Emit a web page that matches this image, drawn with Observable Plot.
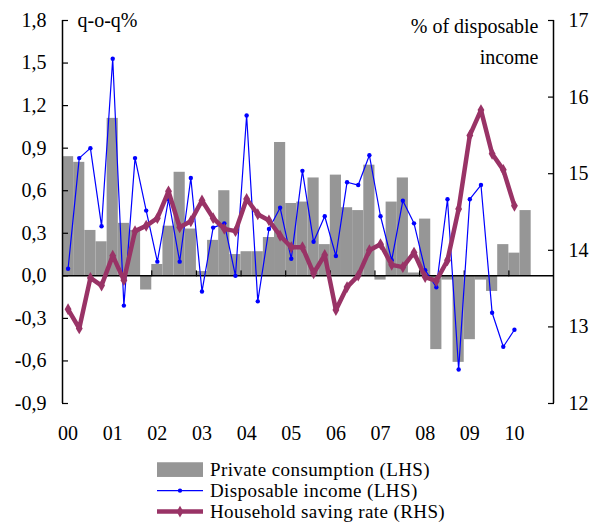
<!DOCTYPE html>
<html><head><meta charset="utf-8">
<script src="https://cdn.jsdelivr.net/npm/d3@7"></script>
<script src="https://cdn.jsdelivr.net/npm/@observablehq/plot@0.6"></script>
<style>
body{margin:0;background:#fff;font-family:"Liberation Serif",serif;}
#legend{margin-left:157px;padding-top:9px;font-size:19px;color:#000}
.row{display:flex;align-items:center;height:21.2px}
.row svg{display:block}
.row span{margin-left:7px;line-height:21.2px;letter-spacing:0.4px;white-space:nowrap}
</style></head><body>
<div id="chart"></div>
<div id="legend"></div>
<script>
// Year tick labels and quarterly categories (2000Q1 .. 2010Q4)
const years = ["00","01","02","03","04","05","06","07","08","09","10"];
const quarters = years.flatMap(y => ["Q1","Q2","Q3","Q4"].map(q => y + q));

// Private consumption, q-o-q % (LHS), 2000Q1 .. 2010Q2
const consumption = [0.84,0.80,0.32,0.24, 1.11,0.37,0.32,-0.10, 0.08,0.35,0.73,0.33,
  0.03,0.25,0.60,0.15, 0.17,0.17,0.27,0.94, 0.51,0.52,0.69,0.22, 0.71,0.48,0.46,0.78,
  -0.03,0.52,0.69,0.02, 0.40,-0.52,-0.03,-0.61, -0.45,-0.03,-0.11,0.22, 0.16,0.46];

// Disposable income, q-o-q % (LHS), 2000Q1 .. 2010Q1
const income = [0.05,0.83,0.90,0.35, 1.53,-0.21,0.83,0.46, 0.10,0.54,0.10,0.69,
  -0.11,0.34,0.37,0.00, 1.13,-0.18,0.33,0.48, 0.12,0.74,0.24,0.42, 0.14,0.66,0.64,0.85,
  0.42,0.11,0.53,0.37, 0.04,-0.08,0.54,-0.66, 0.54,0.64,-0.26,-0.50, -0.38];

// Household saving rate, % of disposable income (RHS), 2000Q1 .. 2010Q1
const savingRate = [13.23,12.98,13.64,13.54, 13.93,13.61,14.25,14.32, 14.42,14.77,14.30,14.38,
  14.65,14.42,14.28,14.25, 14.67,14.47,14.39,14.19, 14.04,14.04,13.70,13.94, 13.22,13.52,13.67,14.00,
  14.08,13.81,13.78,13.97, 13.65,13.60,13.87,14.54, 15.50,15.83,15.26,15.05, 14.58];

const leftTicks = [-0.9,-0.6,-0.3,0,0.3,0.6,0.9,1.2,1.5,1.8];
const rightTicks = [12,13,14,15,16,17];
const lhsDomain = [-0.9, 1.8];
const rhsDomain = [12, 17];
const leftTitle = "q-o-q%";
const rightTitle = "% of disposable\nincome";
const seriesNames = ["Private consumption (LHS)","Disposable income (LHS)","Household saving rate (RHS)"];
const colors = {bar:"#969696", income:"#0000ff", saving:"#993366"};

const k = (lhsDomain[1]-lhsDomain[0])/(rhsDomain[1]-rhsDomain[0]);
const toL = s => lhsDomain[0] + (s - rhsDomain[0]) * k;
const toR = l => rhsDomain[0] + (l - lhsDomain[0]) / k;

const consRows = consumption.map((v,i) => ({i, v}));
const incRows = income.map((v,i) => ({i, v}));
const savRows = savingRate.map((v,i) => ({i, v: toL(v)}));
const yearStarts = years.map((y,j) => j*4);
const boundaries = yearStarts.filter(i => i > 0);

const tickShape = {draw(ctx, l){ ctx.moveTo(0,0); ctx.lineTo(0,-l); }};

const chart = Plot.plot({
  width: 593, height: 450,
  marginLeft: 62, marginRight: 40, marginTop: 20, marginBottom: 47,
  style: {fontFamily: "Liberation Serif, serif", fontSize: "20px", color: "#000", background: "#fff"},
  x: {type: "linear", domain: [0, quarters.length], label: null},
  y: {domain: lhsDomain, label: null},
  marks: [
    Plot.rect(consRows, {x1: d => d.i, x2: d => d.i + 1, y1: 0, y2: d => d.v, fill: colors.bar, inset: 0}),
    Plot.ruleY([0], {stroke: "#000", strokeWidth: 1.5}),
    Plot.vector(boundaries, {x: d => d, y: () => 0, length: 5, rotate: 0, anchor: "start", shape: tickShape, stroke: "#000", strokeWidth: 1.2}),
    Plot.ruleX([0, quarters.length], {y1: lhsDomain[0], y2: lhsDomain[1], stroke: "#000", strokeWidth: 1.5}),
    Plot.line(incRows, {x: d => d.i + 0.5, y: d => d.v, stroke: colors.income, strokeWidth: 1.2}),
    Plot.dot(incRows, {x: d => d.i + 0.5, y: d => d.v, fill: colors.income, r: 2.2}),
    Plot.line(savRows, {x: d => d.i + 0.5, y: d => d.v, stroke: colors.saving, strokeWidth: 4.5, strokeLinejoin: "round"}),
    Plot.dot(savRows, {x: d => d.i + 0.5, y: d => d.v, fill: colors.saving, symbol: "diamond", r: 3.6}),
    Plot.axisY(leftTicks, {anchor: "left", tickSize: 6, insetLeft: 6, tickPadding: 16, strokeWidth: 1.2,
      tickFormat: d => d.toFixed(1).replace(".", ","), label: null}),
    Plot.axisY(rightTicks.map(toL), {anchor: "right", tickSize: 6, insetRight: 6, tickPadding: 15, strokeWidth: 1.2,
      tickFormat: d => String(Math.round(toR(d))), label: null}),
    Plot.axisX(yearStarts.map(i => i + 0.5), {anchor: "bottom", tickSize: 0, tickPadding: 22,
      tickFormat: d => years[Math.floor(d/4)], label: null}),
    Plot.text([leftTitle], {frameAnchor: "top-left", textAnchor: "start", lineAnchor: "top", dx: 15, dy: -8, fill: "#000"}),
    Plot.text([rightTitle], {frameAnchor: "top-right", textAnchor: "end", lineAnchor: "top", dx: -15, dy: -10, lineHeight: 1.55, fill: "#000"})
  ]
});
document.getElementById("chart").appendChild(chart);

// Legend below the chart
const legend = d3.select("#legend");
const H = 21.2, cy = H / 2;
const swatches = [
  svg => svg.append("rect").attr("x",0).attr("y",cy-7.35).attr("width",46).attr("height",14.7).attr("fill",colors.bar),
  svg => { svg.append("line").attr("x1",0).attr("x2",46).attr("y1",cy).attr("y2",cy).attr("stroke",colors.income).attr("stroke-width",1.3);
           svg.append("circle").attr("cx",23).attr("cy",cy).attr("r",2.2).attr("fill",colors.income); },
  svg => { svg.append("line").attr("x1",0).attr("x2",46).attr("y1",cy).attr("y2",cy).attr("stroke",colors.saving).attr("stroke-width",4.5);
           svg.append("path").attr("d", d3.symbol(d3.symbolDiamond, 40)()).attr("transform",`translate(23,${cy})`).attr("fill",colors.saving); }
];
seriesNames.forEach((name, j) => {
  const row = legend.append("div").attr("class","row");
  const svg = row.append("svg").attr("width",46).attr("height",H);
  swatches[j](svg);
  row.append("span").text(name);
});
</script>
</body></html>
